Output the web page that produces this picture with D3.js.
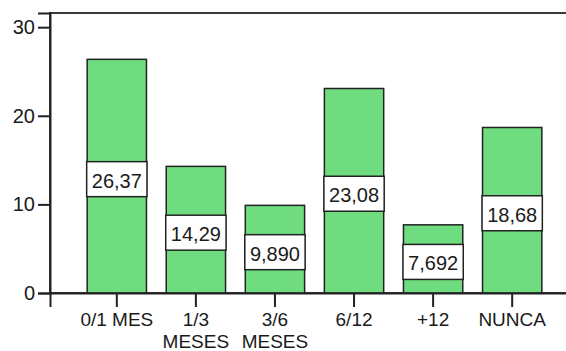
<!DOCTYPE html>
<html>
<head>
<meta charset="utf-8">
<script src="https://cdn.jsdelivr.net/npm/d3@7/dist/d3.min.js"></script>
<style>
  html, body { margin: 0; padding: 0; background: #fff; }
  svg { display: block; }
  text { font-family: "Liberation Sans", Arial, sans-serif; fill: #1a1a1a; }
</style>
</head>
<body>
<svg id="chart" width="566" height="351"></svg>
<script>
// Categories (one array of lines per label) and percentages
const categories = ["0/1 MES", "1/3 MESES", "3/6 MESES", "6/12", "+12", "NUNCA"];
const categoryLines = [["0/1 MES"], ["1/3", "MESES"], ["3/6", "MESES"], ["6/12"], ["+12"], ["NUNCA"]];
const values = [26.37, 14.29, 9.890, 23.08, 7.692, 18.68];
const yTicks = [0, 10, 20, 30];
const yMax = 31.6;

const svg = d3.select("#chart");
const plotLeft = 50, plotRight = 579, plotTop = 13, plotBottom = 293;

const x = d3.scaleBand()
  .domain(categories)
  .range([plotLeft, plotRight])
  .paddingInner(0.25)
  .paddingOuter(0.47);

const y = d3.scaleLinear().domain([0, yMax]).range([plotBottom, plotTop]);

// Comma as decimal separator, four significant digits
const locale = d3.formatLocale({ decimal: ",", thousands: ".", grouping: [3], currency: ["", ""] });
const fmt = locale.format(".4g");

// Plot frame
svg.append("rect")
  .attr("x", plotLeft).attr("y", plotTop)
  .attr("width", plotRight - plotLeft).attr("height", plotBottom - plotTop)
  .attr("fill", "#fff")
  .attr("stroke", "#3a3a3a")
  .attr("stroke-width", 2);

// Bars
svg.append("g").selectAll("rect")
  .data(values)
  .join("rect")
  .attr("x", (d, i) => x(categories[i]))
  .attr("y", d => y(d))
  .attr("width", x.bandwidth())
  .attr("height", d => y(0) - y(d))
  .attr("fill", "#70dc80")
  .attr("stroke", "#222")
  .attr("stroke-width", 1.5);

// Value labels in white boxes at the bar's middle
const labels = svg.append("g").selectAll("g")
  .data(values)
  .join("g")
  .attr("transform", (d, i) => `translate(${x(categories[i]) + x.bandwidth() / 2},${y(d / 2) + 3})`);

labels.append("text")
  .attr("text-anchor", "middle")
  .attr("y", 8.5)
  .style("font-size", "20px")
  .text(d => fmt(d));

labels.each(function () {
  const g = d3.select(this);
  const w = g.select("text").node().getComputedTextLength();
  const bw = Math.max(x.bandwidth() + 1, w + 8);
  g.insert("rect", "text")
    .attr("x", -bw / 2).attr("y", -17.5)
    .attr("width", bw).attr("height", 35)
    .attr("fill", "#fff")
    .attr("stroke", "#222")
    .attr("stroke-width", 1.5);
});

// Y axis
const yAxis = svg.append("g")
  .attr("transform", `translate(${plotLeft},0)`)
  .call(d3.axisLeft(y).tickValues(yTicks).tickSize(12).tickPadding(3).tickFormat(d3.format("d")));
yAxis.select(".domain").attr("stroke", "#222").attr("stroke-width", 2);
yAxis.selectAll(".tick line").attr("stroke", "#222").attr("stroke-width", 2);
yAxis.selectAll(".tick text")
  .style("font-size", "20px")
  .style("font-family", "'Liberation Sans', Arial, sans-serif")
  .attr("fill", "#1a1a1a");

// X axis
const xAxis = svg.append("g")
  .attr("transform", `translate(0,${plotBottom})`)
  .call(d3.axisBottom(x).tickSize(14).tickFormat(""));
xAxis.select(".domain").attr("stroke", "#222").attr("stroke-width", 2);
xAxis.selectAll(".tick line").attr("stroke", "#222").attr("stroke-width", 2);

// Multi-line category labels
xAxis.selectAll(".tick").each(function (d, i) {
  const t = d3.select(this).append("text")
    .attr("text-anchor", "middle")
    .attr("fill", "#1a1a1a")
    .style("font-size", "19px")
    .style("font-family", "'Liberation Sans', Arial, sans-serif");
  categoryLines[i].forEach((line, j) => {
    t.append("tspan").attr("x", 0).attr("y", 33 + j * 21.5).text(line);
  });
});
</script>
</body>
</html>
